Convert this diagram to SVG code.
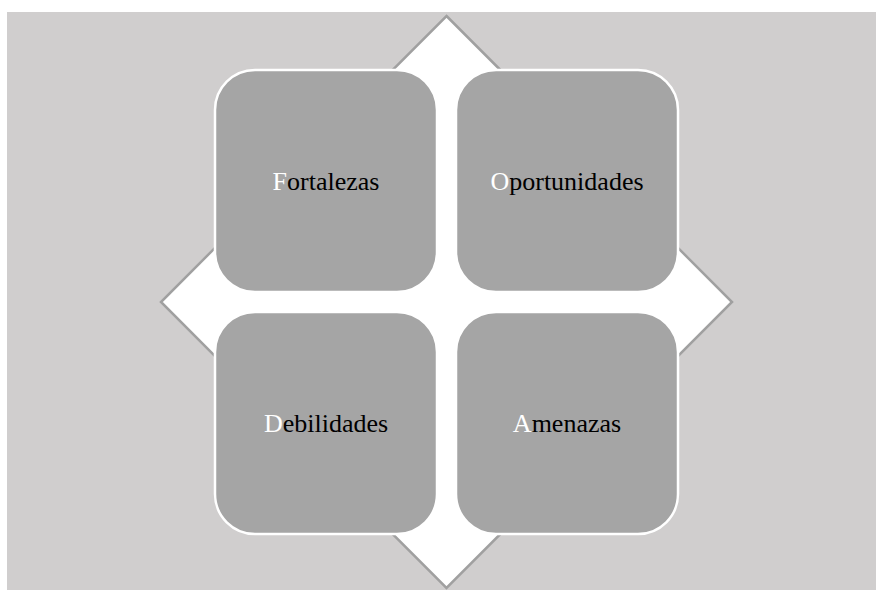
<svg xmlns="http://www.w3.org/2000/svg" width="876" height="590" viewBox="0 0 876 590">
<style>
.box{fill:#a5a5a5;stroke:#ffffff;stroke-width:2.5}
.lbl{font-size:26px;fill:#000000;text-anchor:middle}
.ini{fill:#ffffff}
</style>
<rect x="7" y="12" width="869" height="578" fill="#d0cece"/>
<g id="diamond">
<polygon points="446.5,16 732,302 446.5,588 161,302" fill="#ffffff" stroke="#a0a0a0" stroke-width="2.5"/>
</g>
<g id="fortalezas">
<rect class="box" x="215" y="70" width="222" height="222" rx="40" ry="40"/>
<text class="lbl" font-family="'Liberation Serif', serif" x="326" y="190"><tspan class="ini">F</tspan>ortalezas</text>
</g>
<g id="oportunidades">
<rect class="box" x="456" y="70" width="222" height="222" rx="40" ry="40"/>
<text class="lbl" font-family="'Liberation Serif', serif" x="567" y="190"><tspan class="ini">O</tspan>portunidades</text>
</g>
<g id="debilidades">
<rect class="box" x="215" y="312" width="222" height="222" rx="40" ry="40"/>
<text class="lbl" font-family="'Liberation Serif', serif" x="326" y="432"><tspan class="ini">D</tspan>ebilidades</text>
</g>
<g id="amenazas">
<rect class="box" x="456" y="312" width="222" height="222" rx="40" ry="40"/>
<text class="lbl" font-family="'Liberation Serif', serif" x="567" y="432"><tspan class="ini">A</tspan>menazas</text>
</g>
<g id="connectors"/>
</svg>
